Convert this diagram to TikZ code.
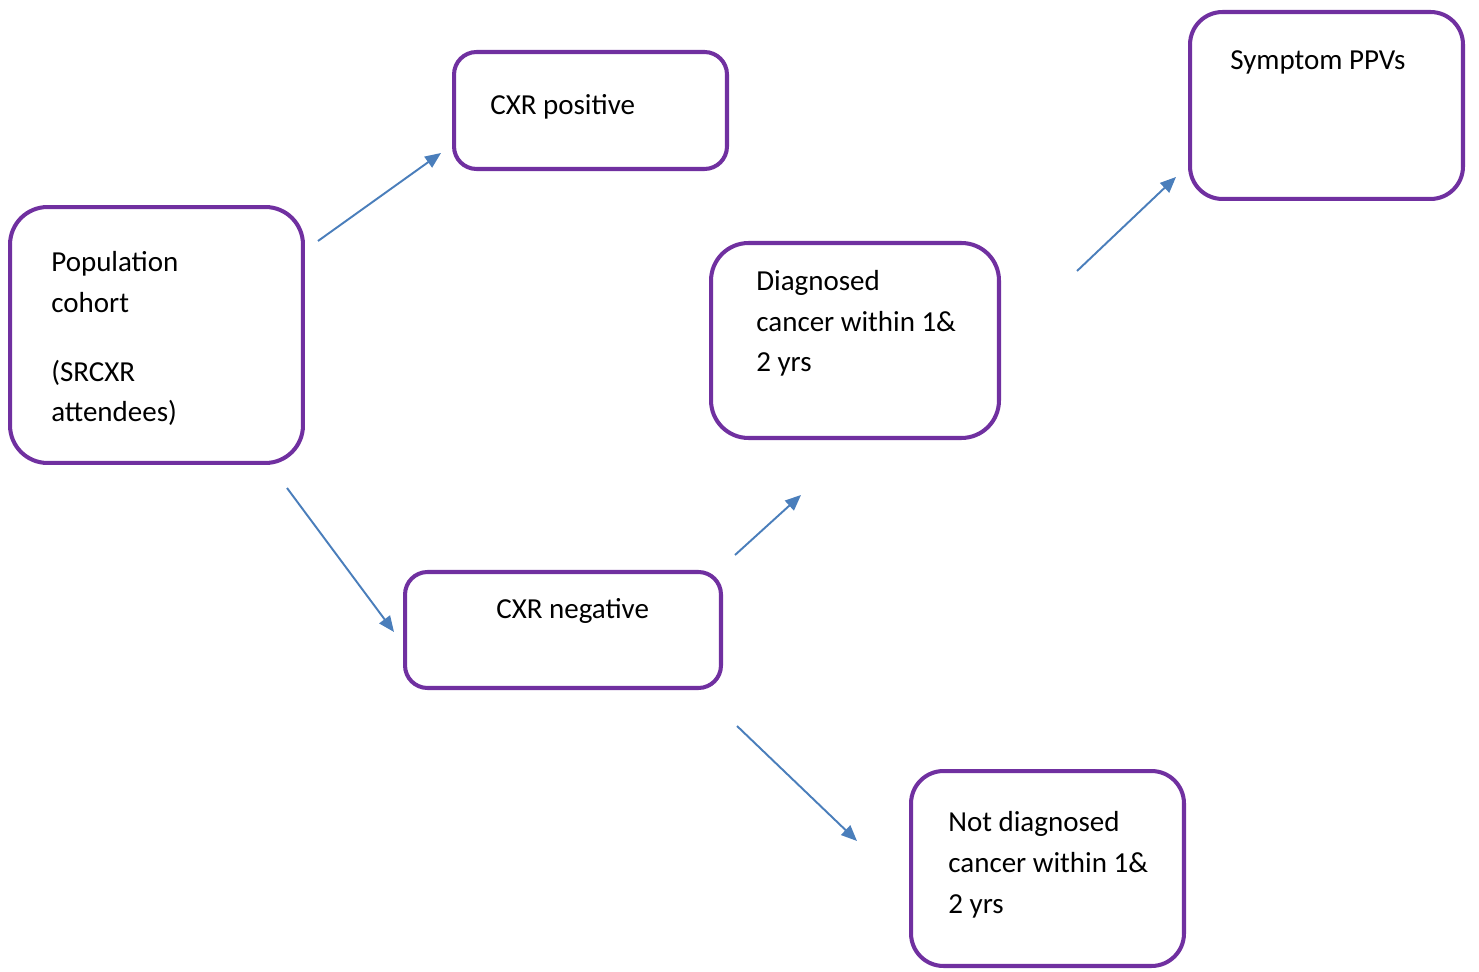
\documentclass[tikz,border=0pt]{standalone}
\usepackage{fontspec}
\setmainfont{Carlito}
\usetikzlibrary{arrows.meta}

\definecolor{boxpurple}{HTML}{7030A0}
\definecolor{arrowblue}{HTML}{4A7EBB}

\tikzset{
  stagebox/.style={draw=boxpurple, line width=2.3pt, rectangle, inner sep=0pt},
  stagetext/.style={anchor=base west, inner sep=0pt, align=left,
    font=\fontsize{16.5}{23.25}\selectfont},
  flow/.style={draw=arrowblue, line width=1.1pt, -{Triangle[length=9pt,width=7.5pt]}}
}

\begin{document}
\begin{tikzpicture}[x=0.02cm, y=-0.02cm]
\useasboundingbox (0,0) rectangle (1479,972);
% boxes
\node[stagebox, rounded corners=0.75cm, minimum width=5.86cm, minimum height=5.12cm] (pop) at (156.5,335) {};
\node[stagebox, rounded corners=0.45cm, minimum width=5.46cm, minimum height=2.34cm] (pos) at (590.5,110.5) {};
\node[stagebox, rounded corners=0.45cm, minimum width=6.32cm, minimum height=2.32cm] (neg) at (563,630) {};
\node[stagebox, rounded corners=0.75cm, minimum width=5.76cm, minimum height=3.9cm] (diag) at (855,340.5) {};
\node[stagebox, rounded corners=0.65cm, minimum width=5.46cm, minimum height=3.74cm] (ppv) at (1326.5,105.5) {};
\node[stagebox, rounded corners=0.65cm, minimum width=5.46cm, minimum height=3.9cm] (notd) at (1047.5,868.5) {};
% texts (base = last line)
\node[stagetext] (poptext) at (51,422) {Population\\cohort\\[15.9pt](SRCXR\\attendees)};
\node[stagetext] (postext) at (490,115) {CXR positive};
\node[stagetext] (negtext) at (496,618) {CXR negative};
\node[stagetext] (diagtext) at (756,372) {Diagnosed\\cancer within 1\&\\2 yrs};
\node[stagetext] (ppvtext) at (1230,70) {Symptom PPVs};
\node[stagetext] (notdtext) at (948,913) {Not diagnosed\\cancer within 1\&\\2 yrs};
% arrow ends
\coordinate (a1) at (318,241);
\coordinate (b1) at (441,153);
\coordinate (a2) at (287,488);
\coordinate (b2) at (394,632);
\coordinate (a3) at (735,555);
\coordinate (b3) at (801,495);
\coordinate (a4) at (737,726);
\coordinate (b4) at (857,841);
\coordinate (a5) at (1077,271);
\coordinate (b5) at (1176,177);
\path[flow] (a1) -- (b1);
\path[flow] (a2) -- (b2);
\path[flow] (a3) -- (b3);
\path[flow] (a4) -- (b4);
\path[flow] (a5) -- (b5);
\end{tikzpicture}
\end{document}
